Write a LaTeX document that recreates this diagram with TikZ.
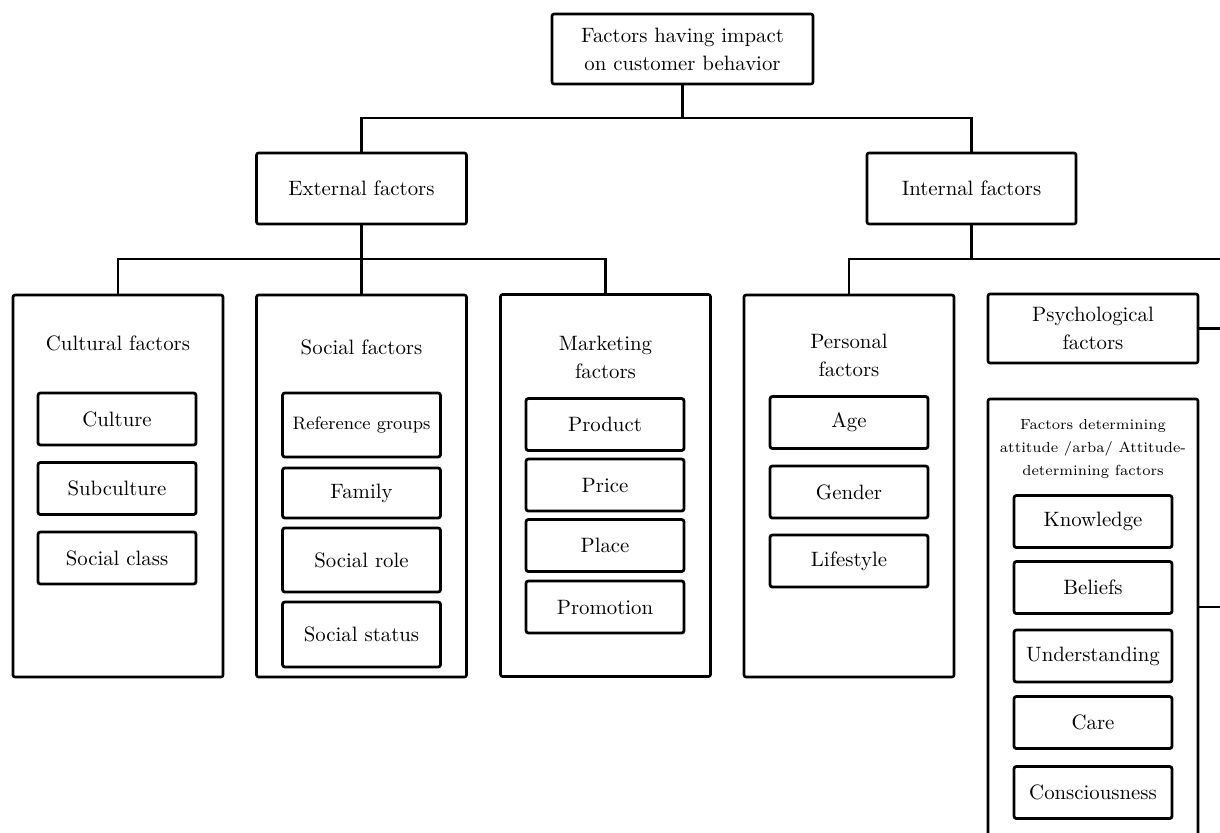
\documentclass[tikz,border=0pt]{standalone}
\usepackage{fontspec}
\usepackage{tikz}
\usetikzlibrary{positioning,calc}

\begin{document}
\begin{tikzpicture}[x=0.5pt, y=-0.5pt,
  link/.style={line width=1.35pt},
  headbox/.style={draw, line width=1.3pt, rounded corners=1pt, fill=white, align=center, font=\fontsize{10.4}{14}\selectfont},
  groupbox/.style={draw, line width=1.3pt, rounded corners=1pt, minimum width=105pt, minimum height=191pt},
  itembox/.style={draw, line width=1.4pt, rounded corners=1.2pt, minimum width=79pt, minimum height=26pt, font=\fontsize{10.4}{14}\selectfont},
  grouptitle/.style={align=center, font=\fontsize{10.4}{14}\selectfont}]
\useasboundingbox (0,0) rectangle (1220,832);
\clip (0,0) rectangle (1220,832);
\coordinate (rim) at (1230,0);
\coordinate (busTop) at (0,118);
\coordinate (busMid) at (0,259);
\coordinate (attLine) at (0,607);

\node[headbox, minimum width=130.5pt, minimum height=35pt] (top) at (682.5,49) {Factors having impact\\on customer behavior};
\node[headbox, minimum width=105pt, minimum height=35.5pt] (ext) at (361.5,188.5) {External factors};
\node[headbox, minimum width=104.5pt, minimum height=35.5pt] (int) at (971.5,188.5) {Internal factors};

\node[groupbox] (cult) at (118,486) {};
\node[groupbox] (soc) at (361.5,486) {};
\node[groupbox] (mkt) at (605.5,485.5) {};
\node[groupbox] (pers) at (849,486) {};
\node[headbox, minimum width=105pt, minimum height=34.5pt] (psy) at (1093,328.5) {Psychological\\factors};
\node[groupbox, minimum height=240pt] (att) at (1093,639) {};

\node[grouptitle] (cultT) at (118,343) {Cultural factors};
\node[itembox] (culture) at (117,419) {Culture};
\node[itembox] (subcult) at (117,488.5) {Subculture};
\node[itembox] (sclass) at (117,558) {Social class};

\node[grouptitle] (socT) at (361.5,347) {Social factors};
\node[itembox, minimum height=32pt, font=\fontsize{9}{11}\selectfont] (refgr) at (361.5,425) {Reference groups};
\node[itembox, minimum height=25pt] (family) at (361.5,493) {Family};
\node[itembox, minimum height=32pt] (srole) at (361.5,560) {Social role};
\node[itembox, minimum height=32.5pt] (sstatus) at (361.5,634.5) {Social status};

\node[grouptitle] (mktT) at (605.5,357.5) {Marketing\\factors};
\node[itembox] (product) at (605,424.5) {Product};
\node[itembox] (price) at (605,485) {Price};
\node[itembox] (place) at (605,545.5) {Place};
\node[itembox] (promo) at (605,607) {Promotion};

\node[grouptitle] (persT) at (849,355) {Personal\\factors};
\node[itembox] (age) at (849,422.5) {Age};
\node[itembox] (gender) at (849,492) {Gender};
\node[itembox] (lifestyle) at (849,561) {Lifestyle};

\node[align=center, font=\fontsize{7.3}{11.6}\selectfont] (attT) at (1093,449) {Factors determining\\attitude /arba/ Attitude-\\determining factors};
\node[itembox] (know) at (1093,521.5) {Knowledge};
\node[itembox] (belief) at (1093,587.5) {Beliefs};
\node[itembox] (underst) at (1093,656) {Understanding};
\node[itembox] (care) at (1093,722.5) {Care};
\node[itembox] (consc) at (1093,792.5) {Consciousness};

\draw[link] (top.south) -- (top.south |- busTop);
\draw[link] (ext.north) -- (ext.north |- busTop) -| (int.north);
\draw[link] (ext.south) -- (ext.south |- soc.north);
\draw[link] (cult.north) -- (cult.north |- busMid) -| (mkt.north);
\draw[link] (int.south) -- (int.south |- busMid);
\draw[link] (pers.north) -- (pers.north |- busMid) -- (rim |- busMid);
\draw[link] (psy.east) -- (psy.east -| rim);
\draw[link] (att.east |- attLine) -- (rim |- attLine);
\end{tikzpicture}
\end{document}
